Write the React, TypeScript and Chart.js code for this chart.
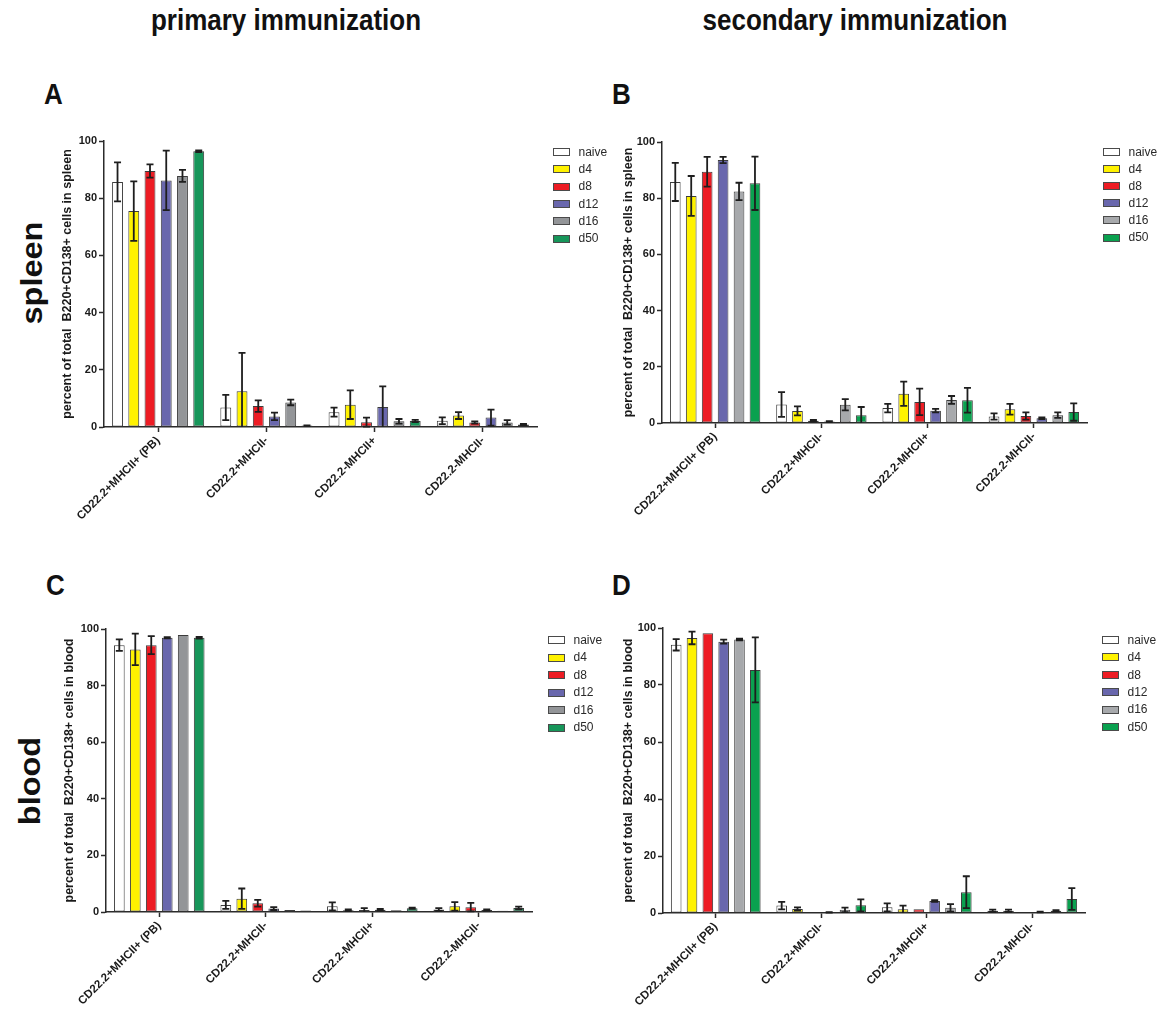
import React, { useEffect, useRef } from "react";
import { Chart, registerables } from "chart.js";

Chart.register(...registerables);

const FONT = '"Liberation Sans", Arial, Helvetica, sans-serif';

// ---------- data ----------
const categories = ["CD22.2+MHCII+ (PB)", "CD22.2+MHCII-", "CD22.2-MHCII+", "CD22.2-MHCII-"];
const seriesLabels = ["naive", "d4", "d8", "d12", "d16", "d50"];
const yMin = 0;
const yMax = 100;
const yStep = 20;

const colorsPrimary = ["#ffffff", "#fff200", "#ed1c24", "#6967ad", "#939598", "#17965a"];
const colorsSecondary = ["#ffffff", "#fff200", "#ed1c24", "#6967ad", "#a7a9ac", "#0aa14f"];

// rows = series (naive, d4, d8, d12, d16, d50), columns = categories
const spleenPrimaryMeans = [
  [85.7, 6.8, 5.2, 2.2],
  [75.5, 12.5, 7.8, 4.0],
  [89.5, 7.3, 1.7, 1.6],
  [86.2, 3.7, 7.0, 3.3],
  [87.8, 8.6, 2.0, 1.6],
  [96.4, 0.5, 2.1, 0.9],
];
const spleenPrimaryErrors = [
  [6.8, 4.4, 1.6, 1.2],
  [10.4, 13.4, 5.0, 1.2],
  [2.3, 2.0, 1.6, 0.4],
  [10.4, 1.3, 7.2, 2.8],
  [2.1, 1.0, 0.8, 0.8],
  [0.3, 0.1, 0.4, 0.2],
];

const spleenSecondaryMeans = [
  [85.8, 6.6, 5.3, 2.3],
  [80.8, 4.3, 10.4, 4.9],
  [89.4, 0.8, 7.5, 2.5],
  [93.6, 0.5, 4.4, 1.7],
  [82.4, 6.5, 8.2, 2.8],
  [85.3, 2.8, 8.1, 3.9],
];
const spleenSecondaryErrors = [
  [6.8, 4.4, 1.5, 1.1],
  [7.1, 1.6, 4.3, 1.9],
  [5.3, 0.3, 4.7, 1.3],
  [1.1, 0.2, 0.6, 0.3],
  [3.1, 2.0, 1.4, 1.0],
  [9.5, 2.9, 4.4, 3.1],
];

const bloodPrimaryMeans = [
  [94.3, 2.5, 2.0, 0.9],
  [92.8, 4.7, 0.6, 2.0],
  [94.3, 3.1, 0.7, 1.7],
  [96.9, 1.2, 0.8, 0.7],
  [97.9, 0.7, 0.6, 0.4],
  [96.9, 0.5, 1.3, 1.4],
];
const bloodPrimaryErrors = [
  [2.0, 1.4, 1.4, 0.5],
  [5.6, 3.6, 0.3, 1.5],
  [3.2, 1.2, 0.7, 1.5],
  [0.2, 0.5, 0.3, 0.2],
  [0, 0, 0, 0],
  [0.3, 0, 0.2, 0.5],
];

const bloodSecondaryMeans = [
  [94.1, 2.6, 2.0, 0.8],
  [96.5, 1.4, 1.3, 0.8],
  [98.2, 0, 1.3, 0.1],
  [95.2, 0.2, 4.2, 0.35],
  [96.0, 1.1, 1.8, 0.8],
  [85.3, 2.7, 7.3, 4.9],
];
const bloodSecondaryErrors = [
  [2.0, 1.3, 1.4, 0.4],
  [2.2, 0.6, 1.3, 0.4],
  [0, 0, 0, 0],
  [0.7, 0.1, 0.3, 0.1],
  [0.3, 0.8, 1.3, 0.2],
  [11.4, 2.1, 5.6, 3.8],
];

const yTitleSpleen = "percent of total  B220+CD138+ cells in spleen";
const yTitleBlood = "percent of total  B220+CD138+ cells in blood";

// ---------- layout (page coordinates) ----------
type Panel = {
  means: number[][];
  errors: number[][];
  colors: string[];
  yTitle: string;
  canvas: { x: number; y: number; w: number; h: number };
  area: { l: number; r: number; t: number; b: number };
  titleX: number;
  legend: { x: number; y: number; pitch: number };
};

const panels: Panel[] = [
  {
    means: spleenPrimaryMeans, errors: spleenPrimaryErrors, colors: colorsPrimary, yTitle: yTitleSpleen,
    canvas: { x: 0, y: 110, w: 620, h: 450 }, area: { l: 104, r: 537, t: 141, b: 427 },
    titleX: 68, legend: { x: 553, y: 152, pitch: 17.3 },
  },
  {
    means: spleenSecondaryMeans, errors: spleenSecondaryErrors, colors: colorsSecondary, yTitle: yTitleSpleen,
    canvas: { x: 600, y: 110, w: 566, h: 450 }, area: { l: 662, r: 1087, t: 142, b: 423 },
    titleX: 629, legend: { x: 1103, y: 152, pitch: 17.1 },
  },
  {
    means: bloodPrimaryMeans, errors: bloodPrimaryErrors, colors: colorsPrimary, yTitle: yTitleBlood,
    canvas: { x: 0, y: 570, w: 620, h: 440 }, area: { l: 106, r: 532, t: 629, b: 912 },
    titleX: 70, legend: { x: 547.5, y: 640, pitch: 17.5 },
  },
  {
    means: bloodSecondaryMeans, errors: bloodSecondaryErrors, colors: colorsSecondary, yTitle: yTitleBlood,
    canvas: { x: 600, y: 570, w: 566, h: 440 }, area: { l: 663, r: 1085, t: 628, b: 913 },
    titleX: 629, legend: { x: 1102, y: 640, pitch: 17.4 },
  },
];

// ---------- plugins ----------
const errorBarPlugin = {
  id: "errorBars",
  afterDatasetsDraw(chart: any) {
    const { ctx } = chart;
    const yScale = chart.scales.y;
    const cap = 3.5;
    ctx.save();
    ctx.strokeStyle = "#1e1e1e";
    ctx.lineWidth = 1.8;
    chart.data.datasets.forEach((ds: any, i: number) => {
      const meta = chart.getDatasetMeta(i);
      meta.data.forEach((bar: any, j: number) => {
        const v = ds.data[j];
        const e = ds.errors ? ds.errors[j] : 0;
        if (!e) return;
        const x = bar.x;
        const top = yScale.getPixelForValue(v + e);
        const lowV = v - e;
        const bottom = yScale.getPixelForValue(Math.max(lowV, 0));
        ctx.beginPath();
        ctx.moveTo(x, top);
        ctx.lineTo(x, bottom);
        ctx.moveTo(x - cap, top);
        ctx.lineTo(x + cap, top);
        if (lowV > 0) {
          ctx.moveTo(x - cap, bottom);
          ctx.lineTo(x + cap, bottom);
        }
        ctx.stroke();
      });
    });
    ctx.restore();
  },
};

const sideLegendPlugin = {
  id: "sideLegend",
  afterDraw(chart: any, _args: any, opts: any) {
    const { ctx } = chart;
    const boxW = 17;
    const boxH = 8;
    ctx.save();
    chart.data.datasets.forEach((ds: any, i: number) => {
      const cy = opts.y + i * opts.pitch;
      const bx = Math.round(opts.x);
      const by = Math.round(cy - boxH / 2);
      ctx.fillStyle = ds.backgroundColor;
      ctx.fillRect(bx, by, boxW, boxH);
      ctx.strokeStyle = "#4a4a4a";
      ctx.lineWidth = 1;
      ctx.strokeRect(bx + 0.5, by + 0.5, boxW - 1, boxH - 1);
      ctx.fillStyle = "#2a2a2a";
      ctx.font = `12px ${FONT}`;
      ctx.textBaseline = "middle";
      ctx.textAlign = "left";
      ctx.fillText(ds.label, bx + 25.5, cy + 0.5);
    });
    ctx.restore();
  },
};

// ---------- components ----------
function ChartPanel({ p }: { p: Panel }) {
  const ref = useRef<HTMLCanvasElement>(null);
  useEffect(() => {
    const c = p.canvas;
    const a = p.area;
    const yW = a.l - c.x;
    const xH = c.y + c.h - a.b;
    const axisColor = "#2b2b2b";
    const chart = new Chart(ref.current as HTMLCanvasElement, {
      type: "bar",
      data: {
        labels: categories,
        datasets: seriesLabels.map((label, i) => ({
          label,
          data: p.means[i],
          errors: p.errors[i],
          backgroundColor: p.colors[i],
          borderColor: "#3c3c3c",
          borderWidth: 1,
          borderSkipped: false,
          categoryPercentage: 0.9,
          barPercentage: 0.67,
        })) as any,
      },
      options: {
        responsive: false,
        animation: false,
        devicePixelRatio: 1,
        events: [],
        layout: { padding: { left: 0, right: c.x + c.w - a.r, top: a.t - c.y, bottom: 0 } },
        plugins: {
          legend: { display: false },
          tooltip: { enabled: false },
          sideLegend: { x: p.legend.x - c.x, y: p.legend.y - c.y, pitch: p.legend.pitch },
        } as any,
        scales: {
          x: {
            grid: {
              display: true, drawOnChartArea: false, drawTicks: true, tickLength: 5,
              offset: false, tickColor: axisColor, tickWidth: 1.5,
            },
            border: { display: true, color: axisColor, width: 1.5 },
            ticks: {
              minRotation: 45, maxRotation: 45, autoSkip: false, padding: 2, color: "#1a1a1a",
              font: { family: FONT, size: 11.5, weight: "bold" },
            },
            afterFit: (s: any) => { s.height = xH; },
          } as any,
          y: {
            min: yMin,
            max: yMax,
            ticks: {
              stepSize: yStep, padding: 2, color: "#1a1a1a",
              font: { family: FONT, size: 11, weight: "bold" },
            },
            grid: {
              display: true, drawOnChartArea: false, drawTicks: true, tickLength: 5,
              tickColor: axisColor, tickWidth: 1.5,
            },
            border: { display: true, color: axisColor, width: 1.5 },
            title: {
              display: true, text: p.yTitle, color: "#1a1a1a",
              font: { family: FONT, size: 12.5, weight: "bold", lineHeight: 1.2 },
              padding: { top: p.titleX - c.x - 7.5, bottom: 0 },
            },
            afterFit: (s: any) => { s.width = yW; },
          } as any,
        },
      },
      plugins: [errorBarPlugin as any, sideLegendPlugin as any],
    });
    return () => chart.destroy();
  }, []);
  const c = p.canvas;
  return (
    <canvas
      ref={ref}
      width={c.w}
      height={c.h}
      style={{ position: "absolute", left: c.x, top: c.y, width: c.w, height: c.h }}
    />
  );
}

function HText({ text, x, baseline, size, center }: { text: string; x: number; baseline: number; size: number; center?: boolean }) {
  const base = 0.8465 * size;
  return (
    <div
      style={{
        position: "absolute",
        left: x,
        top: baseline - base,
        fontSize: size,
        lineHeight: 1,
        fontWeight: "bold",
        whiteSpace: "nowrap",
        color: "#111",
        transform: `${center ? "translateX(-50%) " : ""}scaleY(1.12)`,
        transformOrigin: `50% ${base}px`,
      }}
    >
      {text}
    </div>
  );
}

function VText({ text, cx, cy, size }: { text: string; cx: number; cy: number; size: number }) {
  return (
    <div
      style={{
        position: "absolute",
        left: cx,
        top: cy,
        fontSize: size,
        lineHeight: 1,
        fontWeight: "bold",
        whiteSpace: "nowrap",
        color: "#111",
        transform: "translate(-50%, -50%) rotate(-90deg) scaleX(1.12)",
        transformOrigin: "50% 50%",
      }}
    >
      {text}
    </div>
  );
}

export default function App() {
  return (
    <div
      style={{
        position: "absolute",
        left: 0,
        top: 0,
        width: 1166,
        height: 1010,
        background: "#ffffff",
        fontFamily: FONT,
        overflow: "hidden",
      }}
    >
      <HText text="primary immunization" x={286} baseline={30.5} size={26} center />
      <HText text="secondary immunization" x={855} baseline={30.5} size={26} center />
      <HText text="A" x={44} baseline={104} size={26} />
      <HText text="B" x={612} baseline={104} size={26} />
      <HText text="C" x={46} baseline={595} size={26} />
      <HText text="D" x={612} baseline={595} size={26} />
      <VText text="spleen" cx={32} cy={273} size={29} />
      <VText text="blood" cx={30} cy={781} size={29} />
      {panels.map((p, i) => (
        <ChartPanel key={i} p={p} />
      ))}
    </div>
  );
}
